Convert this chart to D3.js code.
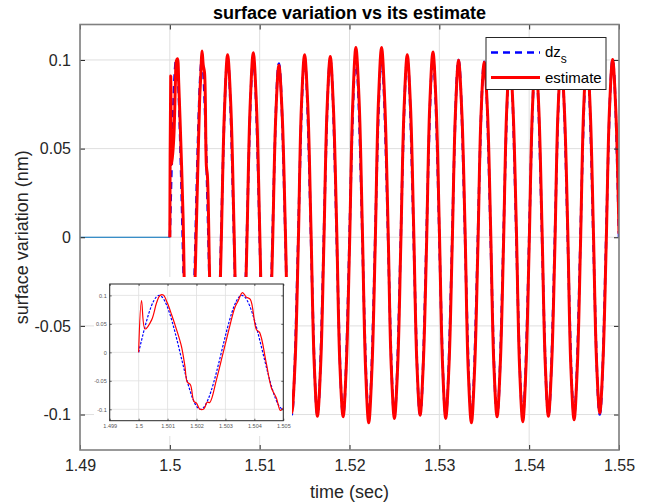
<!DOCTYPE html>
<html><head><meta charset="utf-8">
<script src="https://cdn.jsdelivr.net/npm/d3@7"></script>
<style>
body{margin:0;background:#fff}
svg{display:block}
text{font-family:"Liberation Sans",Arial,Helvetica,sans-serif}
</style>
</head><body>
<svg id="c" width="663" height="503"></svg>
<script>
// ---------- data ----------
const xTicks = [1.49, 1.5, 1.51, 1.52, 1.53, 1.54, 1.55];
const yTicks = [0.1, 0.05, 0, -0.05, -0.1];
const insetXTicks = [1.499, 1.5, 1.501, 1.502, 1.503, 1.504, 1.505];
const insetYTicks = [0.1, 0.05, 0, -0.05, -0.1];
const seriesNames = ["dz", "estimate"];

// flat signal before the excitation starts
const preTime = [1.49, 1.5];
const preValue = [0, 0];

// dz_s (reference surface variation), extremes and zero crossings
const dzTime = [
 1.50000,1.50071,1.50143,1.50214,1.50286,1.50357,1.50429,1.50500,
 1.50571,1.50643,1.50714,1.50786,1.50857,1.50929,1.51000,1.51071,
 1.51143,1.51214,1.51286,1.51357,1.51429,1.51500,1.51571,1.51643,
 1.51714,1.51786,1.51857,1.51929,1.52000,1.52071,1.52143,1.52214,
 1.52286,1.52357,1.52429,1.52500,1.52571,1.52643,1.52714,1.52786,
 1.52857,1.52929,1.53000,1.53071,1.53143,1.53214,1.53286,1.53357,
 1.53429,1.53500,1.53571,1.53643,1.53714,1.53786,1.53857,1.53929,
 1.54000,1.54071,1.54143,1.54214,1.54286,1.54357,1.54429,1.54500,
 1.54571,1.54643,1.54714,1.54786,1.54857,1.54929,1.55000];
const dzValue = [
 0,0.100,0,-0.100, 0,0.100,0,-0.100, 0,0.100,0,-0.100, 0,0.100,0,-0.100,
 0,0.098,0,-0.100, 0,0.100,0,-0.100, 0,0.100,0,-0.100, 0,0.100,0,-0.100,
 0,0.100,0,-0.100, 0,0.100,0,-0.100, 0,0.100,0,-0.100, 0,0.100,0,-0.100,
 0,0.099,0,-0.100, 0,0.100,0,-0.100, 0,0.100,0,-0.100, 0,0.100,0,-0.100,
 0,0.100,0,-0.100, 0,0.100,0];

// estimate
const estTime = [
 1.50000,1.50010,1.50022,1.50045,1.50062,1.50073,1.50085,1.50099,
 1.50114,1.50131,1.50148,1.50160,1.50168,1.50179,1.50191,1.50200,
 1.50211,1.50225,1.50237,1.50246,1.50269,1.50292,1.50315,1.50332,
 1.50343,1.50359,1.50372,1.50386,1.50407,1.50418,1.50441,1.50459,
 1.50476,1.50490,1.50500,
 1.50536,1.50571,1.50607,1.50643,1.50679,1.50714,1.50750,1.50786,
 1.50821,1.50857,1.50893,1.50929,1.50964,1.51000,1.51036,1.51071,
 1.51107,1.51143,1.51179,1.51214,1.51250,1.51286,1.51321,1.51357,
 1.51393,1.51429,1.51464,1.51500,1.51536,1.51571,1.51607,1.51643,
 1.51679,1.51714,1.51750,1.51786,1.51821,1.51857,1.51893,1.51929,
 1.51964,1.52000,1.52036,1.52071,1.52107,1.52143,1.52179,1.52214,
 1.52250,1.52286,1.52321,1.52357,1.52393,1.52429,1.52464,1.52500,
 1.52536,1.52571,1.52607,1.52643,1.52679,1.52714,1.52750,1.52786,
 1.52821,1.52857,1.52893,1.52929,1.52964,1.53000,1.53036,1.53071,
 1.53107,1.53143,1.53179,1.53214,1.53250,1.53286,1.53321,1.53357,
 1.53393,1.53429,1.53464,1.53500,1.53536,1.53571,1.53607,1.53643,
 1.53679,1.53714,1.53750,1.53786,1.53821,1.53857,1.53893,1.53929,
 1.53964,1.54000,1.54036,1.54071,1.54107,1.54143,1.54179,1.54214,
 1.54250,1.54286,1.54321,1.54357,1.54393,1.54429,1.54464,1.54500,
 1.54536,1.54571,1.54607,1.54643,1.54679,1.54714,1.54750,1.54786,
 1.54821,1.54857,1.54893,1.54929,1.54964,1.55000];
const estValue = [
 0,0.091,0.041,0.057,0.087,0.0995,0.1007,0.087,
 0.066,0.040,0.0105,-0.0246,-0.052,-0.057,-0.086,-0.089,
 -0.0995,-0.0995,-0.0877,-0.088,-0.048,-0.001,0.046,0.078,
 0.0895,0.105,0.097,0.093,0.040,0.035,-0.0186,-0.0625,
 -0.080,-0.1018,-0.098,
 -0.072,-0.006,0.070,0.103,0.074,0.006,-0.071,-0.101,
 -0.072,-0.005,0.073,0.104,0.075,0.005,-0.072,-0.102,
 -0.071,-0.006,0.068,0.097,0.070,0.004,-0.070,-0.099,
 -0.072,-0.006,0.073,0.103,0.074,0.005,-0.071,-0.101,
 -0.072,-0.005,0.072,0.102,0.073,0.006,-0.072,-0.1013,
 -0.073,-0.006,0.075,0.107,0.077,0.005,-0.074,-0.1047,
 -0.074,-0.005,0.075,0.107,0.076,0.006,-0.072,-0.1022,
 -0.073,-0.004,0.072,0.103,0.074,0.006,-0.071,-0.1004,
 -0.072,-0.006,0.074,0.1045,0.075,0.005,-0.072,-0.1022,
 -0.073,-0.005,0.070,0.0998,0.071,0.005,-0.074,-0.1047,
 -0.074,-0.006,0.069,0.0987,0.071,0.005,-0.072,-0.1013,
 -0.071,-0.005,0.072,0.101,0.072,0.006,-0.073,-0.104,
 -0.074,-0.005,0.072,0.102,0.073,0.005,-0.071,-0.101,
 -0.072,-0.006,0.071,0.100,0.071,0.005,-0.073,-0.103,
 -0.073,-0.005,0.073,0.103,0.073,0.006,-0.070,-0.0991,
 -0.071,-0.005,0.071,0.1003,0.072,0.002];

// ---------- build ----------
const zip = (t, v) => t.map((d, i) => [d, v[i]]);
const preData = zip(preTime, preValue);
const dzData = zip(dzTime, dzValue);
const estData = zip(estTime, estValue);

const svg = d3.select("#c");
const W = 663, H = 503;
const M = {l: 80, r: 619, t: 24.5, b: 450};
const x = d3.scaleLinear().domain([1.49, 1.55]).range([M.l, M.r]);
const y = d3.scaleLinear().domain([-0.12, 0.12]).range([M.b, M.t]);

const AX = "#262626", GRID = "#dfdfdf", BOX = "#808080";
const BLUE = "#0000ff", RED = "#ff0000";

svg.append("rect").attr("width", W).attr("height", H).attr("fill", "#fff");

const defs = svg.append("defs");
defs.append("clipPath").attr("id", "clipMain").append("rect")
  .attr("x", M.l).attr("y", M.t).attr("width", M.r - M.l).attr("height", M.b - M.t);

// grid
const grid = svg.append("g");
grid.selectAll(".gx").data(xTicks).join("line")
  .attr("x1", d => x(d)).attr("x2", d => x(d)).attr("y1", M.t).attr("y2", M.b)
  .attr("stroke", GRID).attr("stroke-width", 1);
grid.selectAll(".gy").data(yTicks).join("line")
  .attr("x1", M.l).attr("x2", M.r).attr("y1", d => y(d)).attr("y2", d => y(d))
  .attr("stroke", GRID).attr("stroke-width", 1);

// lines
const plot = svg.append("g").attr("clip-path", "url(#clipMain)");
const lineLin = d3.line().x(d => x(d[0])).y(d => y(d[1]));
const lineDz = d3.line().x(d => x(d[0])).y(d => y(d[1])).curve(d3.curveNatural);
const lineEst = d3.line().x(d => x(d[0])).y(d => y(d[1])).curve(d3.curveCatmullRom.alpha(0.5));

plot.append("path").attr("d", lineLin(preData)).attr("fill", "none")
  .attr("stroke", "#0072bd").attr("stroke-width", 1);
plot.append("path").attr("d", lineDz(dzData)).attr("fill", "none")
  .attr("stroke", BLUE).attr("stroke-width", 2.5).attr("stroke-dasharray", "7,5");
plot.append("path").attr("d", lineEst(estData)).attr("fill", "none")
  .attr("stroke", RED).attr("stroke-width", 3).attr("stroke-linejoin", "round");

// axes
function styleAxis(g, fs) {
  g.select(".domain").remove();
  g.selectAll(".tick line").attr("stroke", AX).attr("stroke-width", 1);
  g.selectAll(".tick text").attr("fill", AX).style("font-size", fs + "px")
    .style("font-family", '"Liberation Sans", Arial, sans-serif');
}
const fmt = d => String(d);
svg.append("g").attr("transform", `translate(0,${M.b})`)
  .call(d3.axisBottom(x).tickValues(xTicks).tickFormat(fmt).tickSize(-5).tickPadding(10))
  .call(g => styleAxis(g, 16));
svg.append("g").attr("transform", `translate(0,${M.t})`)
  .call(d3.axisTop(x).tickValues(xTicks).tickFormat("").tickSize(-5))
  .call(g => styleAxis(g, 16));
svg.append("g").attr("transform", `translate(${M.l},0)`)
  .call(d3.axisLeft(y).tickValues(yTicks).tickFormat(fmt).tickSize(-5).tickPadding(9))
  .call(g => styleAxis(g, 16));
svg.append("g").attr("transform", `translate(${M.r},0)`)
  .call(d3.axisRight(y).tickValues(yTicks).tickFormat("").tickSize(-5))
  .call(g => styleAxis(g, 16));

// box
svg.append("rect").attr("x", M.l).attr("y", M.t).attr("width", M.r - M.l).attr("height", M.b - M.t)
  .attr("fill", "none").attr("stroke", BOX).attr("stroke-width", 1.6);

// title and labels
svg.append("text").attr("x", (M.l + M.r) / 2).attr("y", 19).attr("text-anchor", "middle")
  .style("font-size", "18px").style("font-weight", "bold").attr("fill", "#000")
  .text("surface variation vs its estimate");
svg.append("text").attr("x", (M.l + M.r) / 2).attr("y", 498).attr("text-anchor", "middle")
  .style("font-size", "18px").attr("fill", AX).text("time (sec)");
svg.append("text").attr("transform", `translate(28,${(M.t + M.b) / 2}) rotate(-90)`)
  .attr("text-anchor", "middle").style("font-size", "18px").attr("fill", AX)
  .text("surface variation (nm)");

// legend
const lg = svg.append("g");
lg.append("rect").attr("x", 486).attr("y", 37.5).attr("width", 120).attr("height", 52)
  .attr("fill", "#fff").attr("stroke", AX).attr("stroke-width", 1);
lg.append("line").attr("x1", 491).attr("x2", 540).attr("y1", 52.5).attr("y2", 52.5)
  .attr("stroke", BLUE).attr("stroke-width", 2.5).attr("stroke-dasharray", "7,5");
const t1 = lg.append("text").attr("x", 545).attr("y", 57).style("font-size", "15px").attr("fill", "#000");
t1.append("tspan").text(seriesNames[0]);
t1.append("tspan").attr("dy", 6).style("font-size", "12px").text("s");
lg.append("line").attr("x1", 491).attr("x2", 540).attr("y1", 77.5).attr("y2", 77.5)
  .attr("stroke", RED).attr("stroke-width", 3);
lg.append("text").attr("x", 545).attr("y", 82.5).style("font-size", "15px").attr("fill", "#000")
  .text(seriesNames[1]);

// ---------- inset ----------
const I = {l: 109.7, r: 283.3, t: 284, b: 420.7};
const ix = d3.scaleLinear().domain([1.499, 1.505]).range([I.l, I.r]);
const iy = d3.scaleLinear().domain([-0.12, 0.12]).range([I.b, I.t]);
const ins = svg.append("g");
ins.append("rect").attr("x", 94).attr("y", 277).attr("width", 198).attr("height", 159).attr("fill", "#fff");
defs.append("clipPath").attr("id", "clipInset").append("rect")
  .attr("x", I.l).attr("y", I.t).attr("width", I.r - I.l).attr("height", I.b - I.t);
ins.selectAll(".igx").data(insetXTicks).join("line")
  .attr("x1", d => ix(d)).attr("x2", d => ix(d)).attr("y1", I.t).attr("y2", I.b)
  .attr("stroke", GRID).attr("stroke-width", 0.8);
ins.selectAll(".igy").data(insetYTicks).join("line")
  .attr("x1", I.l).attr("x2", I.r).attr("y1", d => iy(d)).attr("y2", d => iy(d))
  .attr("stroke", GRID).attr("stroke-width", 0.8);
const ip = ins.append("g").attr("clip-path", "url(#clipInset)");
const iLineDz = d3.line().x(d => ix(d[0])).y(d => iy(d[1])).curve(d3.curveNatural);
const iLineEst = d3.line().x(d => ix(d[0])).y(d => iy(d[1])).curve(d3.curveCatmullRom.alpha(0.5));
ip.append("path").attr("d", iLineDz(dzData)).attr("fill", "none")
  .attr("stroke", BLUE).attr("stroke-width", 1.2).attr("stroke-dasharray", "2.5,1.5");
ip.append("path").attr("d", iLineEst(estData)).attr("fill", "none")
  .attr("stroke", RED).attr("stroke-width", 1.2);
function styleInset(g) {
  g.select(".domain").remove();
  g.selectAll(".tick line").attr("stroke", AX).attr("stroke-width", 0.7);
  g.selectAll(".tick text").attr("fill", "#555").style("font-size", "5.5px")
    .style("font-family", '"Liberation Sans", Arial, sans-serif');
}
ins.append("g").attr("transform", `translate(0,${I.b})`)
  .call(d3.axisBottom(ix).tickValues(insetXTicks).tickFormat(fmt).tickSize(-2).tickPadding(3))
  .call(styleInset);
ins.append("g").attr("transform", `translate(0,${I.t})`)
  .call(d3.axisTop(ix).tickValues(insetXTicks).tickFormat("").tickSize(-2))
  .call(styleInset);
ins.append("g").attr("transform", `translate(${I.l},0)`)
  .call(d3.axisLeft(iy).tickValues(insetYTicks).tickFormat(fmt).tickSize(-2).tickPadding(3))
  .call(styleInset);
ins.append("g").attr("transform", `translate(${I.r},0)`)
  .call(d3.axisRight(iy).tickValues(insetYTicks).tickFormat("").tickSize(-2))
  .call(styleInset);
ins.append("rect").attr("x", I.l).attr("y", I.t).attr("width", I.r - I.l).attr("height", I.b - I.t)
  .attr("fill", "none").attr("stroke", AX).attr("stroke-width", 1);
</script>
</body></html>
